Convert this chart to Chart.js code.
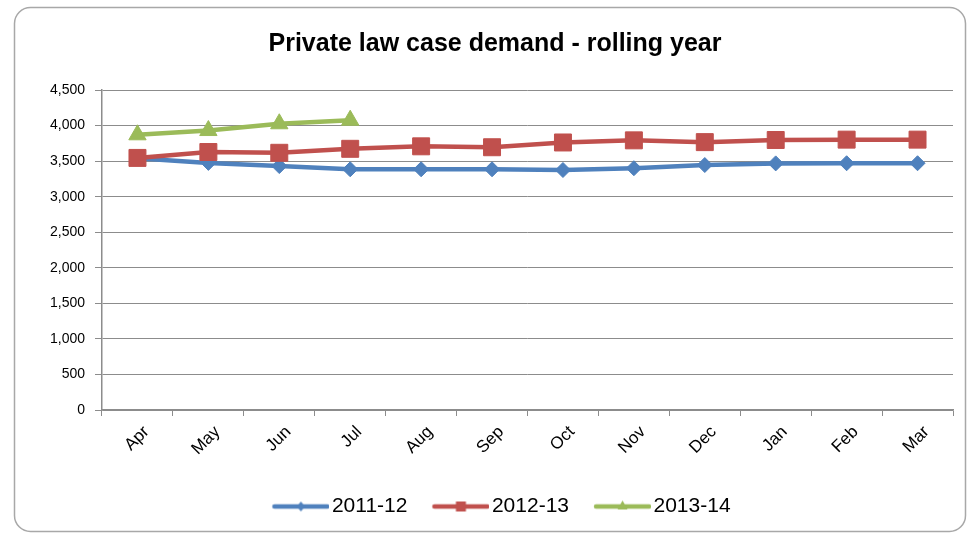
<!DOCTYPE html>
<html>
<head>
<meta charset="utf-8">
<script src="https://cdn.jsdelivr.net/npm/chart.js@4/dist/chart.umd.min.js"></script>
<style>
  html, body { margin: 0; padding: 0; background: #fff; }
  #wrap { width: 971px; height: 537px; position: relative; }
</style>
</head>
<body>
<div id="wrap"><canvas id="c" width="971" height="537"></canvas></div>
<script>
const months = ["Apr", "May", "Jun", "Jul", "Aug", "Sep", "Oct", "Nov", "Dec", "Jan", "Feb", "Mar"];
const seriesNames = ["2011-12", "2012-13", "2013-14"];
const values2011 = [3540, 3475, 3430, 3385, 3385, 3385, 3375, 3400, 3445, 3468, 3470, 3470];
const values2012 = [3545, 3628, 3617, 3673, 3708, 3695, 3762, 3792, 3767, 3797, 3802, 3802];
const values2013 = [3870, 3930, 4025, 4075, null, null, null, null, null, null, null, null];
const chartTitle = "Private law case demand - rolling year";
const yMax = 4500;
const yStep = 500;

const FONT = "'Liberation Sans', Arial, sans-serif";
const colors = ["#4F81BD", "#C0504D", "#9BBB59"];
const styles = ["rectRot", "rect", "triangle"];
const radii = [7.5, 12, 10];
const drawOrder = [3, 2, 1];

// legend icon: wider than the reserved box so the line sits close to the text
function legendIcon(color, style) {
  const cv = document.createElement("canvas");
  cv.width = 78; cv.height = 20;
  const ctx = cv.getContext("2d");
  ctx.strokeStyle = color; ctx.lineWidth = 4.5; ctx.lineCap = "round";
  ctx.beginPath(); ctx.moveTo(23, 10); ctx.lineTo(76, 10); ctx.stroke();
  ctx.fillStyle = color;
  const cx = 49.5;
  ctx.beginPath();
  if (style === "rectRot") {
    ctx.moveTo(cx, 5); ctx.lineTo(cx + 4, 10); ctx.lineTo(cx, 15); ctx.lineTo(cx - 4, 10);
  } else if (style === "rect") {
    ctx.rect(cx - 5, 5, 10, 10);
  } else {
    ctx.moveTo(cx, 4); ctx.lineTo(cx + 5, 13); ctx.lineTo(cx - 5, 13);
  }
  ctx.closePath(); ctx.fill();
  return cv;
}

const frame = {
  id: "frame",
  beforeDraw(chart) {
    const ctx = chart.ctx;
    ctx.save();
    ctx.fillStyle = "#fff";
    ctx.fillRect(0, 0, chart.width, chart.height);
    ctx.strokeStyle = "#a8a8a8";
    ctx.lineWidth = 1.5;
    ctx.beginPath();
    ctx.roundRect(14.5, 7.5, 951, 524, 16);
    ctx.stroke();
    ctx.restore();
  }
};

const datasets = [values2011, values2012, values2013].map((vals, i) => ({
  label: seriesNames[i],
  data: vals,
  order: drawOrder[i],
  borderColor: colors[i],
  backgroundColor: colors[i],
  borderWidth: 4.5,
  pointStyle: styles[i],
  pointRadius: radii[i],
  pointHoverRadius: radii[i],
  pointBackgroundColor: colors[i],
  pointBorderColor: colors[i],
  pointBorderWidth: 1,
  tension: 0,
  spanGaps: false
}));

new Chart(document.getElementById("c"), {
  type: "line",
  data: { labels: months, datasets },
  plugins: [frame],
  options: {
    responsive: false,
    animation: false,
    events: [],
    layout: { padding: { left: 37, right: 18, top: 0, bottom: 10 } },
    plugins: {
      title: {
        display: true,
        text: chartTitle,
        color: "#000",
        font: { family: FONT, size: 25, weight: "bold", lineHeight: 1.2 },
        padding: { top: 29, bottom: 31 }
      },
      legend: {
        display: true,
        position: "bottom",
        labels: {
          color: "#000",
          font: { family: FONT, size: 21 },
          usePointStyle: true,
          pointStyleWidth: 62,
          padding: 12,
          generateLabels(chart) {
            return chart.data.datasets.map((ds, i) => ({
              text: ds.label,
              fillStyle: colors[i],
              strokeStyle: colors[i],
              lineWidth: 0,
              pointStyle: legendIcon(colors[i], styles[i]),
              datasetIndex: i,
              hidden: false
            }));
          }
        }
      },
      tooltip: { enabled: false }
    },
    scales: {
      x: {
        offset: true,
        afterFit(s) { s.height = 74; },
        grid: {
          offset: true,
          drawOnChartArea: false,
          drawTicks: true,
          tickLength: 6,
          color: "#8c8c8c",
          lineWidth: 1
        },
        border: { display: true, color: "#8c8c8c", width: 1.5 },
        ticks: {
          color: "#000",
          font: { family: FONT, size: 17 },
          minRotation: 45,
          maxRotation: 45,
          padding: 6,
          labelOffset: 9,
          autoSkip: false
        }
      },
      y: {
        min: 0,
        max: yMax,
        afterFit(s) { s.width = 65; },
        grid: {
          color: "#8c8c8c",
          lineWidth: 1,
          drawTicks: true,
          tickLength: 7
        },
        border: { display: true, color: "#8c8c8c", width: 1.5 },
        ticks: {
          stepSize: yStep,
          color: "#000",
          font: { family: FONT, size: 14 },
          padding: 10
        }
      }
    }
  }
});
</script>
</body>
</html>
